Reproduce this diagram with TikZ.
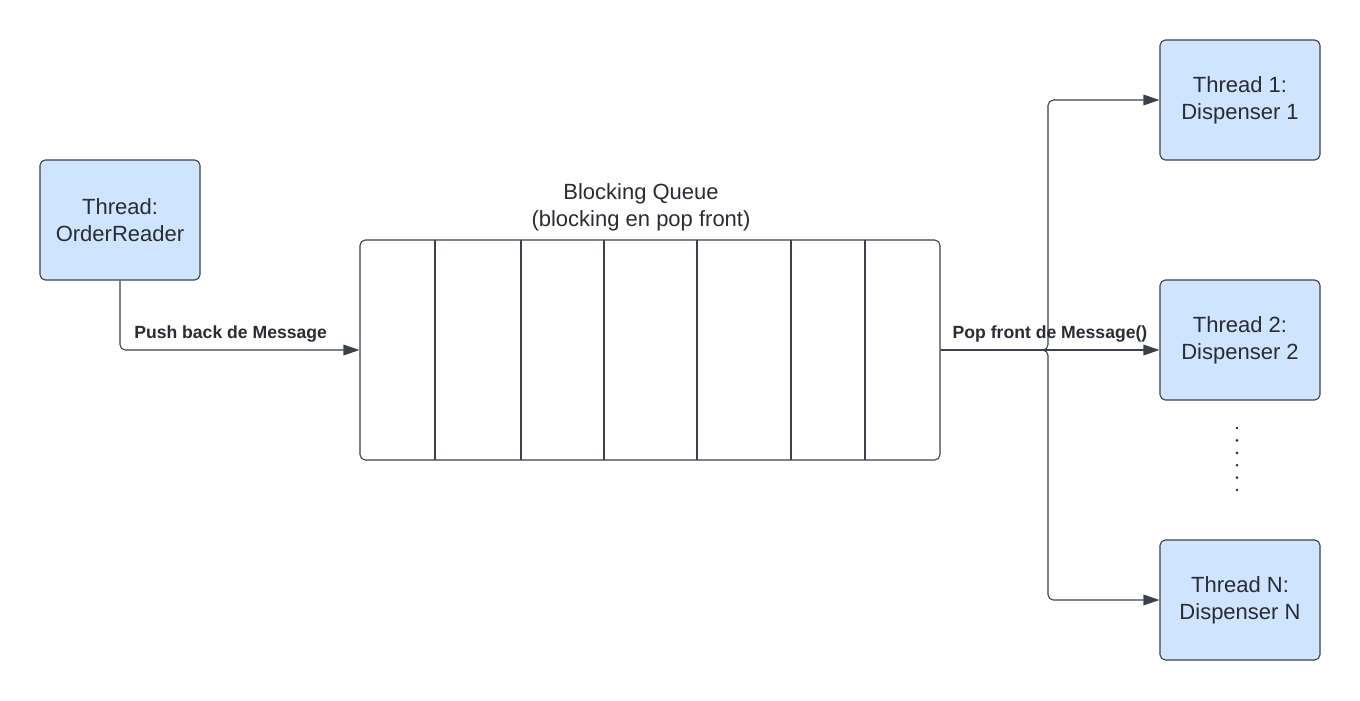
\documentclass[tikz,border=0pt]{standalone}
\usepackage{fontspec}
\setmainfont{Liberation Sans}
\usetikzlibrary{arrows.meta,positioning}
\definecolor{qink}{HTML}{282C33}
\definecolor{qline}{HTML}{3A414A}
\definecolor{qblue}{HTML}{CFE4FF}
\tikzset{
  thread/.style={draw=qline,fill=qblue,rounded corners=4pt,line width=0.8pt,align=center,text=qink,
    font=\fontsize{16.5}{20.5}\selectfont,minimum width=120pt,minimum height=90pt,inner sep=2pt},
  queuebox/.style={draw=qline,rounded corners=4pt,line width=0.8pt,minimum width=435pt,minimum height=165pt,inner sep=0pt},
  cell/.style={draw=qline,line width=0.8pt},
  arr/.style={-{Triangle[length=12pt,width=8pt]},line width=0.8pt,draw=qline,rounded corners=4pt},
  lbl/.style={font=\fontsize{13.2}{15}\selectfont\bfseries,text=qink,inner sep=0pt},
  ttl/.style={font=\fontsize{16.5}{20.5}\selectfont,text=qink,align=center,inner sep=0pt},
}

\begin{document}
\begin{tikzpicture}[x=0.75pt,y=-0.75pt]
  \useasboundingbox (0,0) rectangle (1360,700);
  \node[thread] (reader) at (120,220) {Thread:\\OrderReader};
  \node[queuebox] (queue) at (650,350) {};
  \foreach \x in {435,521,604,697,791,865}
    \draw[cell] (\x,240) -- (\x,460);
  \node[ttl] (qtitle) at (641,207) {Blocking Queue\\(blocking en pop front)};
  \node[thread] (disp1) at (1240,100) {Thread 1:\\Dispenser 1};
  \node[thread] (disp2) at (1240,340) {Thread 2:\\Dispenser 2};
  \node[thread] (dispN) at (1240,600) {Thread N:\\Dispenser N};
  % dots between dispenser 2 and N
  \foreach \i in {0,...,5}
    \fill[qink] (1237,{428+12.4*\i}) circle (1.1pt);
  \coordinate (split) at (1048,350);
  \draw[arr] (reader.south) |- (queue.west);
  \node[lbl,anchor=west] (pushlbl) at (134,334) {Push back de Message};
  \draw[arr] (queue.east) -- (split) |- (disp1.west);
  \draw[arr] (queue.east) -- (queue.east -| disp2.west);
  \draw[arr] (queue.east) -- (split) |- (dispN.west);
  \node[lbl] (poplbl) at (1050,334) {Pop front de Message()};
\end{tikzpicture}
\end{document}
